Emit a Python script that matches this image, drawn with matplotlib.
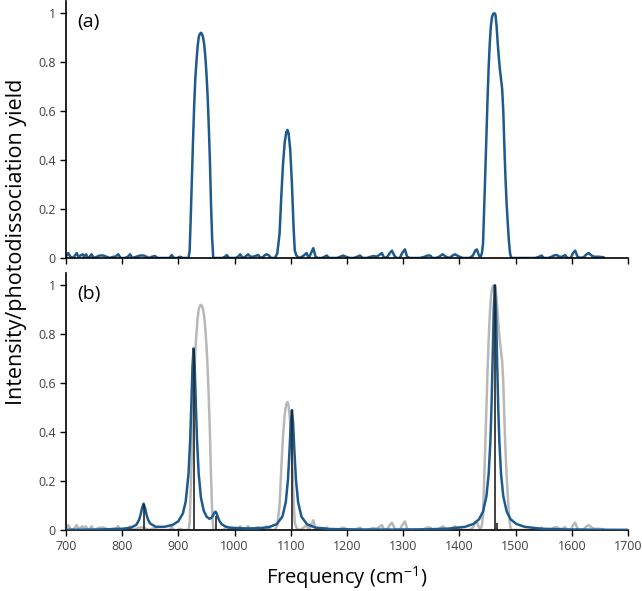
import numpy as np
import matplotlib
matplotlib.use('Agg')
import matplotlib.pyplot as plt

freq_exp = [700, 704, 708, 712, 716, 719, 722, 726, 729.6, 732, 735.6, 739, 742, 745.6, 749,
            755, 760, 766, 772, 778, 784, 788, 793, 797, 805, 810, 814, 818, 825, 832, 838,
            843, 848, 853, 858, 863, 870, 878, 884, 888, 892, 898, 903, 908, 914,
            918, 920, 922, 924, 926, 928, 930, 932, 934, 936, 938, 940, 942, 944, 946, 948,
            950, 952, 954, 956, 958, 960, 962,
            970, 978, 983, 986, 990, 996, 1002, 1006, 1010, 1014, 1019, 1024, 1028, 1033,
            1037, 1042, 1046, 1051, 1054, 1057, 1061, 1065, 1070,
            1072, 1076, 1080, 1083, 1086, 1089, 1092, 1094, 1096, 1099, 1102, 1105, 1107, 1110,
            1114, 1120, 1124, 1128, 1132, 1136, 1140, 1144, 1148, 1155, 1160, 1164, 1168,
            1175, 1182, 1188, 1193, 1198, 1205, 1212, 1218, 1223, 1228, 1235, 1242, 1248,
            1252, 1256, 1262, 1266, 1272, 1276, 1280, 1284, 1288, 1294, 1298, 1303, 1307,
            1312, 1320, 1330, 1338, 1343, 1348, 1352, 1358, 1364, 1370, 1376, 1382, 1388,
            1392, 1396, 1400, 1406, 1412, 1418, 1424, 1428, 1431, 1434, 1437,
            1440, 1442, 1444, 1446, 1448, 1450, 1452, 1454, 1456, 1458, 1460, 1462, 1464,
            1466, 1468, 1470, 1472, 1474, 1476, 1478, 1480, 1482, 1484, 1486, 1488, 1490, 1492,
            1496, 1505, 1515, 1525, 1535, 1542, 1546, 1550, 1558, 1564, 1568, 1573, 1578,
            1583, 1588, 1592, 1598, 1602, 1606, 1610, 1616, 1622, 1626, 1630, 1635, 1640,
            1648, 1656]
yld_exp = [0.005, 0.02, 0.005, 0.0, 0.01, 0.02, 0.005, 0.01, 0.015, 0.005, 0.015, 0.0, 0.005, 0.015, 0.0,
           0.005, 0.01, 0.01, 0.005, 0.0, 0.005, 0.005, 0.015, 0.0, 0.0, 0.005, 0.015, 0.0, 0.005, 0.01, 0.01,
           0.005, 0.0, 0.005, 0.008, 0.0, 0.0, 0.0, 0.0, 0.012, 0.0, 0.0, 0.005, 0.0, 0.0,
           0.0, 0.03, 0.17, 0.33, 0.48, 0.62, 0.73, 0.80, 0.86, 0.90, 0.915, 0.92, 0.915, 0.90, 0.87, 0.82,
           0.75, 0.66, 0.54, 0.40, 0.22, 0.08, 0.0,
           0.0, 0.0, 0.005, 0.012, 0.0, 0.0, 0.0, 0.005, 0.015, 0.0, 0.005, 0.015, 0.005, 0.005,
           0.008, 0.012, 0.0, 0.005, 0.012, 0.015, 0.01, 0.0, 0.0,
           0.0, 0.02, 0.10, 0.25, 0.38, 0.47, 0.515, 0.523, 0.51, 0.44, 0.30, 0.12, 0.03, 0.01,
           0.0, 0.005, 0.012, 0.02, 0.0, 0.02, 0.04, 0.005, 0.0, 0.0, 0.005, 0.01, 0.0,
           0.0, 0.0, 0.005, 0.01, 0.005, 0.0, 0.0, 0.005, 0.01, 0.0, 0.0, 0.005, 0.008,
           0.005, 0.01, 0.02, 0.0, 0.005, 0.02, 0.03, 0.01, 0.0, 0.0, 0.02, 0.035, 0.005,
           0.0, 0.0, 0.0, 0.005, 0.01, 0.01, 0.0, 0.0, 0.005, 0.015, 0.005, 0.0, 0.01,
           0.015, 0.01, 0.005, 0.0, 0.0, 0.0, 0.01, 0.03, 0.035, 0.015, 0.0,
           0.02, 0.06, 0.20, 0.35, 0.50, 0.65, 0.78, 0.88, 0.95, 0.985, 0.997, 1.0, 0.995,
           0.95, 0.88, 0.82, 0.77, 0.73, 0.69, 0.60, 0.45, 0.32, 0.22, 0.14, 0.07, 0.02, 0.0,
           0.0, 0.0, 0.0, 0.0, 0.0, 0.005, 0.01, 0.0, 0.0, 0.005, 0.01, 0.012, 0.005,
           0.005, 0.012, 0.0, 0.0, 0.02, 0.03, 0.005, 0.0, 0.005, 0.015, 0.02, 0.01, 0.005,
           0.005, 0.003]

# Computed spectrum: broadened curve and stick positions
freq_calc = [700, 750, 800, 815, 825, 830, 833, 835, 838, 841, 843, 846, 850, 860, 875, 890,
             900, 908, 913, 918, 921, 923, 925, 927, 929, 931, 933, 936, 940, 945, 950, 955,
             959, 962, 964, 966, 968, 970, 973, 977, 983, 990, 1000, 1020, 1040, 1060, 1075,
             1085, 1091, 1095, 1098, 1100, 1102, 1104, 1106, 1109, 1113, 1119, 1129, 1144,
             1170, 1220, 1280, 1340, 1380, 1410, 1425, 1435, 1442, 1448, 1452, 1455, 1457,
             1459, 1461, 1463, 1465, 1467, 1469, 1471, 1474, 1478, 1484, 1491, 1501, 1516,
             1546, 1586, 1650, 1700]
int_calc = [0.001, 0.0015, 0.005, 0.009, 0.021, 0.041, 0.065, 0.087, 0.108, 0.087, 0.065, 0.042,
            0.026, 0.013, 0.013, 0.021, 0.036, 0.068, 0.117, 0.23, 0.372, 0.512, 0.666, 0.742,
            0.667, 0.513, 0.372, 0.232, 0.133, 0.079, 0.055, 0.046, 0.05, 0.061, 0.071, 0.075,
            0.068, 0.054, 0.037, 0.024, 0.015, 0.010, 0.0085, 0.0064, 0.007, 0.011, 0.024,
            0.055, 0.113, 0.208, 0.339, 0.441, 0.49, 0.441, 0.339, 0.208, 0.113, 0.054, 0.023,
            0.0098, 0.004, 0.002, 0.0017, 0.0027, 0.0055, 0.013, 0.025, 0.044, 0.0755, 0.138,
            0.229, 0.36, 0.5, 0.692, 0.9, 1.0, 0.9, 0.692, 0.5, 0.36, 0.229, 0.138, 0.0755,
            0.044, 0.025, 0.013, 0.0052, 0.0024, 0.001, 0.0006]
freq_stick = [838, 927, 966, 1102, 1463, 1466]
int_stick = [0.105, 0.74, 0.058, 0.49, 1.0, 0.03]

# Style
blue = '#1d5a8e'
gray = '#b8b8b8'
plt.rcParams['font.family'] = ['Open Sans', 'DejaVu Sans']
plt.rcParams['mathtext.default'] = 'regular'

fig = plt.figure(figsize=(6.42, 5.91), dpi=100)
ax_a = fig.add_axes([0.1028, 0.5635, 0.8755, 0.4349])
ax_b = fig.add_axes([0.1028, 0.1032, 0.8755, 0.4349])

# Panel (a): experiment
ax_a.plot(freq_exp, yld_exp, color=blue, lw=1.8)

# Panel (b): experiment in gray, computed spectrum in blue, sticks in black
ax_b.plot(freq_exp, yld_exp, color=gray, lw=1.8, zorder=2)
ax_b.plot(freq_calc, int_calc, color=blue, lw=1.8, zorder=3)
ax_b.vlines(freq_stick, 0, int_stick, color='#222222', lw=1.2, zorder=4)

for ax, label in [(ax_a, '(a)'), (ax_b, '(b)')]:
    ax.set_xlim(700, 1700)
    ax.set_ylim(0, 1.05)
    ax.set_xticks(np.arange(700, 1701, 100))
    ax.set_yticks([0, 0.2, 0.4, 0.6, 0.8, 1])
    ax.set_yticklabels(['0', '0.2', '0.4', '0.6', '0.8', '1'])
    ax.spines['top'].set_visible(False)
    ax.spines['right'].set_visible(False)
    ax.spines['left'].set_linewidth(1.2)
    ax.spines['bottom'].set_linewidth(1.2)
    ax.tick_params(direction='out', length=4, width=1.0, labelsize=9, colors='black',
                   labelcolor='#404040')
    ax.text(0.02, 0.955, label, transform=ax.transAxes, fontsize=14, va='top', ha='left')

ax_a.tick_params(axis='x', labelbottom=False)

ax_b.set_xlabel('Frequency (cm$^{-1}$)', fontsize=14.5, labelpad=8)
fig.text(0.025, 0.59, 'Intensity/photodissociation yield', rotation=90, fontsize=15.5,
         ha='center', va='center')

fig.savefig('out.png', dpi=100)
